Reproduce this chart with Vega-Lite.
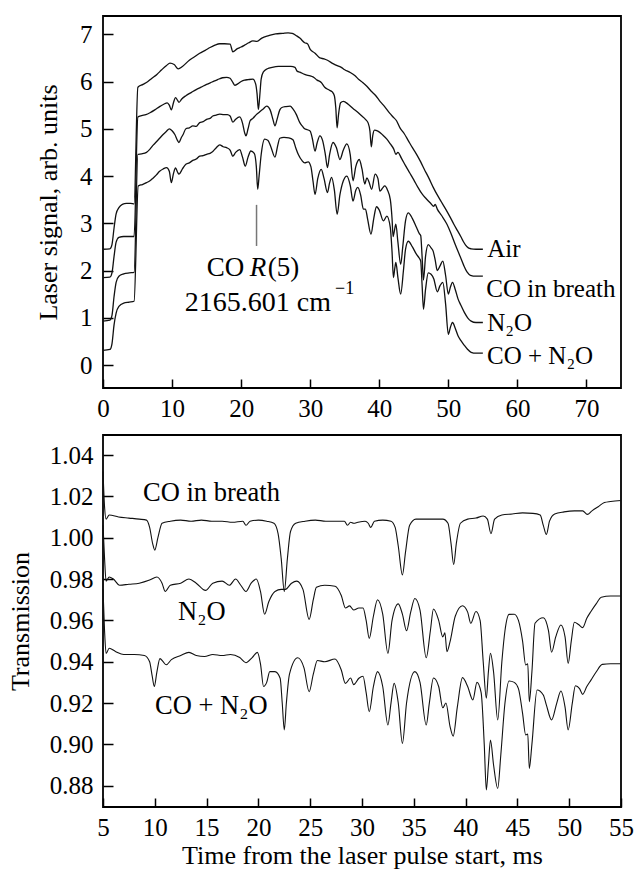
{
"$schema": "https://vega.github.io/schema/vega-lite/v6.json",
"padding": {"left": 6, "top": 15, "right": 0, "bottom": 0},
"spacing": 12,
"config": {
  "font": "Liberation Serif",
  "view": {"stroke": "#000", "strokeWidth": 1.8},
  "axis": {"labelFont": "Liberation Serif", "titleFont": "Liberation Serif", "labelFontSize": 25, "titleFontSize": 26, "titleFontWeight": "normal", "labelColor": "#000", "titleColor": "#000", "tickColor": "#000", "tickWidth": 1.5, "domain": false, "grid": false, "labelFlush": false, "labelOverlap": false}
},
"datasets": {
"top": [
{"s":"A","t":0,"v":2.45},{"s":"A","t":1.0,"v":2.46},{"s":"A","t":1.3,"v":2.55},{"s":"A","t":1.6,"v":2.9},{"s":"A","t":1.9,"v":3.2},{"s":"A","t":2.3,"v":3.33},{"s":"A","t":2.8,"v":3.4},{"s":"A","t":3.4,"v":3.42},{"s":"A","t":4.0,"v":3.42},{"s":"A","t":4.5,"v":3.41},{"s":"A","t":5.05,"v":5.88},{"s":"A","t":5.8,"v":5.94},{"s":"A","t":6.5,"v":6.0},{"s":"A","t":7.0,"v":6.06},{"s":"A","t":7.8,"v":6.15},{"s":"A","t":8.5,"v":6.25},{"s":"A","t":9.2,"v":6.34},{"s":"A","t":9.7,"v":6.39},{"s":"A","t":10.3,"v":6.36},{"s":"A","t":10.9,"v":6.27},{"s":"A","t":11.5,"v":6.32},{"s":"A","t":12.5,"v":6.45},{"s":"A","t":13.2,"v":6.52},{"s":"A","t":14.0,"v":6.6},{"s":"A","t":14.8,"v":6.66},{"s":"A","t":15.5,"v":6.72},{"s":"A","t":16.2,"v":6.77},{"s":"A","t":16.9,"v":6.8},{"s":"A","t":17.6,"v":6.8},{"s":"A","t":18.4,"v":6.79},{"s":"A","t":18.8,"v":6.63},{"s":"A","t":19.4,"v":6.69},{"s":"A","t":20.0,"v":6.73},{"s":"A","t":20.5,"v":6.77},{"s":"A","t":21.1,"v":6.82},{"s":"A","t":21.7,"v":6.86},{"s":"A","t":22.3,"v":6.85},{"s":"A","t":23.0,"v":6.92},{"s":"A","t":24.0,"v":6.97},{"s":"A","t":25.0,"v":7.01},{"s":"A","t":26.0,"v":7.02},{"s":"A","t":26.8,"v":7.03},{"s":"A","t":27.4,"v":7.02},{"s":"A","t":28.0,"v":6.97},{"s":"A","t":28.5,"v":6.92},{"s":"A","t":29.2,"v":6.82},{"s":"A","t":29.6,"v":6.8},{"s":"A","t":30.0,"v":6.68},{"s":"A","t":30.7,"v":6.6},{"s":"A","t":31.4,"v":6.5},{"s":"A","t":32.0,"v":6.48},{"s":"A","t":32.5,"v":6.45},{"s":"A","t":33.3,"v":6.38},{"s":"A","t":34.0,"v":6.33},{"s":"A","t":34.5,"v":6.3},{"s":"A","t":35.0,"v":6.25},{"s":"A","t":35.8,"v":6.19},{"s":"A","t":36.5,"v":6.12},{"s":"A","t":37.0,"v":6.05},{"s":"A","t":37.6,"v":5.98},{"s":"A","t":38.2,"v":5.9},{"s":"A","t":38.8,"v":5.8},{"s":"A","t":39.5,"v":5.7},{"s":"A","t":40.0,"v":5.6},{"s":"A","t":40.6,"v":5.5},{"s":"A","t":41.5,"v":5.33},{"s":"A","t":42.0,"v":5.25},{"s":"A","t":42.5,"v":5.17},{"s":"A","t":43.0,"v":5.02},{"s":"A","t":43.6,"v":4.9},{"s":"A","t":44.2,"v":4.75},{"s":"A","t":44.8,"v":4.6},{"s":"A","t":45.4,"v":4.46},{"s":"A","t":46.0,"v":4.3},{"s":"A","t":46.5,"v":4.15},{"s":"A","t":47.2,"v":3.95},{"s":"A","t":47.85,"v":3.75},{"s":"A","t":48.4,"v":3.6},{"s":"A","t":49.0,"v":3.45},{"s":"A","t":49.7,"v":3.28},{"s":"A","t":50.3,"v":3.12},{"s":"A","t":50.8,"v":2.98},{"s":"A","t":51.3,"v":2.85},{"s":"A","t":51.8,"v":2.72},{"s":"A","t":52.15,"v":2.62},{"s":"A","t":52.5,"v":2.54},{"s":"A","t":52.9,"v":2.48},{"s":"A","t":53.3,"v":2.46},{"s":"A","t":54.0,"v":2.45},{"s":"A","t":55.0,"v":2.45},
{"s":"B","t":0,"v":1.85},{"s":"B","t":1.0,"v":1.86},{"s":"B","t":1.3,"v":1.95},{"s":"B","t":1.6,"v":2.3},{"s":"B","t":1.9,"v":2.6},{"s":"B","t":2.3,"v":2.7},{"s":"B","t":3.0,"v":2.72},{"s":"B","t":3.8,"v":2.72},{"s":"B","t":4.5,"v":2.72},{"s":"B","t":5.05,"v":5.25},{"s":"B","t":5.6,"v":5.28},{"s":"B","t":6.2,"v":5.3},{"s":"B","t":6.8,"v":5.34},{"s":"B","t":7.5,"v":5.4},{"s":"B","t":8.2,"v":5.47},{"s":"B","t":8.8,"v":5.52},{"s":"B","t":9.3,"v":5.55},{"s":"B","t":9.6,"v":5.5},{"s":"B","t":9.9,"v":5.4},{"s":"B","t":10.2,"v":5.55},{"s":"B","t":10.5,"v":5.66},{"s":"B","t":10.8,"v":5.6},{"s":"B","t":11.0,"v":5.56},{"s":"B","t":11.4,"v":5.63},{"s":"B","t":12.0,"v":5.7},{"s":"B","t":12.8,"v":5.77},{"s":"B","t":13.5,"v":5.83},{"s":"B","t":14.2,"v":5.88},{"s":"B","t":15.0,"v":5.94},{"s":"B","t":15.8,"v":5.99},{"s":"B","t":16.6,"v":6.04},{"s":"B","t":17.3,"v":6.08},{"s":"B","t":17.9,"v":6.09},{"s":"B","t":18.4,"v":6.07},{"s":"B","t":18.8,"v":5.98},{"s":"B","t":19.1,"v":5.92},{"s":"B","t":19.5,"v":5.95},{"s":"B","t":20.0,"v":6.0},{"s":"B","t":20.5,"v":6.03},{"s":"B","t":21.0,"v":6.04},{"s":"B","t":21.7,"v":6.05},{"s":"B","t":22.1,"v":5.95},{"s":"B","t":22.3,"v":5.75},{"s":"B","t":22.5,"v":5.41},{"s":"B","t":22.7,"v":5.7},{"s":"B","t":22.9,"v":6.05},{"s":"B","t":23.2,"v":6.2},{"s":"B","t":23.8,"v":6.27},{"s":"B","t":24.5,"v":6.3},{"s":"B","t":25.4,"v":6.32},{"s":"B","t":26.3,"v":6.32},{"s":"B","t":27.2,"v":6.32},{"s":"B","t":27.8,"v":6.3},{"s":"B","t":28.1,"v":6.22},{"s":"B","t":28.5,"v":6.2},{"s":"B","t":29.2,"v":6.15},{"s":"B","t":30.0,"v":6.12},{"s":"B","t":30.4,"v":6.1},{"s":"B","t":31.0,"v":6.03},{"s":"B","t":31.6,"v":5.98},{"s":"B","t":32.1,"v":5.88},{"s":"B","t":32.6,"v":5.83},{"s":"B","t":33.2,"v":5.78},{"s":"B","t":33.5,"v":5.7},{"s":"B","t":33.7,"v":5.45},{"s":"B","t":33.9,"v":5.02},{"s":"B","t":34.1,"v":5.3},{"s":"B","t":34.4,"v":5.55},{"s":"B","t":34.8,"v":5.58},{"s":"B","t":35.5,"v":5.52},{"s":"B","t":36.2,"v":5.43},{"s":"B","t":36.8,"v":5.36},{"s":"B","t":37.4,"v":5.28},{"s":"B","t":38.0,"v":5.2},{"s":"B","t":38.4,"v":5.12},{"s":"B","t":38.65,"v":4.95},{"s":"B","t":38.85,"v":4.62},{"s":"B","t":39.05,"v":4.85},{"s":"B","t":39.3,"v":4.97},{"s":"B","t":39.8,"v":4.95},{"s":"B","t":40.5,"v":4.87},{"s":"B","t":41.1,"v":4.78},{"s":"B","t":41.6,"v":4.68},{"s":"B","t":42.1,"v":4.57},{"s":"B","t":42.4,"v":4.46},{"s":"B","t":42.7,"v":4.5},{"s":"B","t":43.2,"v":4.38},{"s":"B","t":43.8,"v":4.22},{"s":"B","t":44.4,"v":4.07},{"s":"B","t":45.0,"v":3.92},{"s":"B","t":45.6,"v":3.76},{"s":"B","t":46.2,"v":3.62},{"s":"B","t":46.8,"v":3.52},{"s":"B","t":47.4,"v":3.43},{"s":"B","t":47.9,"v":3.36},{"s":"B","t":48.1,"v":3.4},{"s":"B","t":48.4,"v":3.3},{"s":"B","t":49.0,"v":3.17},{"s":"B","t":49.8,"v":2.98},{"s":"B","t":50.4,"v":2.78},{"s":"B","t":51.0,"v":2.55},{"s":"B","t":51.7,"v":2.3},{"s":"B","t":52.2,"v":2.12},{"s":"B","t":52.7,"v":1.97},{"s":"B","t":53.2,"v":1.9},{"s":"B","t":54.0,"v":1.88},{"s":"B","t":55.0,"v":1.88},
{"s":"C","t":0,"v":0.93},{"s":"C","t":1.0,"v":0.95},{"s":"C","t":1.3,"v":1.05},{"s":"C","t":1.6,"v":1.45},{"s":"C","t":1.9,"v":1.75},{"s":"C","t":2.3,"v":1.88},{"s":"C","t":3.0,"v":1.93},{"s":"C","t":3.8,"v":1.95},{"s":"C","t":4.5,"v":1.96},{"s":"C","t":5.05,"v":4.46},{"s":"C","t":5.6,"v":4.47},{"s":"C","t":6.3,"v":4.5},{"s":"C","t":6.8,"v":4.57},{"s":"C","t":7.3,"v":4.66},{"s":"C","t":7.7,"v":4.72},{"s":"C","t":8.2,"v":4.8},{"s":"C","t":8.7,"v":4.88},{"s":"C","t":9.2,"v":4.95},{"s":"C","t":9.6,"v":5.0},{"s":"C","t":10.0,"v":4.96},{"s":"C","t":10.4,"v":4.88},{"s":"C","t":10.8,"v":4.75},{"s":"C","t":11.0,"v":4.71},{"s":"C","t":11.3,"v":4.8},{"s":"C","t":11.6,"v":4.88},{"s":"C","t":12.0,"v":5.0},{"s":"C","t":12.5,"v":5.02},{"s":"C","t":13.0,"v":5.06},{"s":"C","t":13.5,"v":5.05},{"s":"C","t":14.0,"v":5.13},{"s":"C","t":14.5,"v":5.15},{"s":"C","t":15.0,"v":5.2},{"s":"C","t":15.5,"v":5.22},{"s":"C","t":15.9,"v":5.27},{"s":"C","t":16.4,"v":5.29},{"s":"C","t":16.9,"v":5.31},{"s":"C","t":17.5,"v":5.3},{"s":"C","t":18.0,"v":5.3},{"s":"C","t":18.4,"v":5.27},{"s":"C","t":18.8,"v":5.14},{"s":"C","t":19.2,"v":5.2},{"s":"C","t":19.8,"v":5.25},{"s":"C","t":20.2,"v":5.12},{"s":"C","t":20.5,"v":4.92},{"s":"C","t":20.7,"v":4.85},{"s":"C","t":21.0,"v":5.0},{"s":"C","t":21.3,"v":5.17},{"s":"C","t":21.7,"v":5.22},{"s":"C","t":22.2,"v":5.3},{"s":"C","t":22.7,"v":5.36},{"s":"C","t":23.2,"v":5.42},{"s":"C","t":23.7,"v":5.48},{"s":"C","t":24.2,"v":5.4},{"s":"C","t":24.6,"v":5.2},{"s":"C","t":24.9,"v":5.06},{"s":"C","t":25.2,"v":5.2},{"s":"C","t":25.6,"v":5.4},{"s":"C","t":25.9,"v":5.45},{"s":"C","t":26.5,"v":5.47},{"s":"C","t":27.1,"v":5.48},{"s":"C","t":27.5,"v":5.42},{"s":"C","t":28.0,"v":5.3},{"s":"C","t":28.5,"v":5.13},{"s":"C","t":28.9,"v":5.05},{"s":"C","t":29.2,"v":5.0},{"s":"C","t":29.6,"v":4.98},{"s":"C","t":30.0,"v":4.95},{"s":"C","t":30.3,"v":4.8},{"s":"C","t":30.7,"v":4.53},{"s":"C","t":31.0,"v":4.7},{"s":"C","t":31.4,"v":4.85},{"s":"C","t":31.8,"v":4.75},{"s":"C","t":32.2,"v":4.45},{"s":"C","t":32.5,"v":4.18},{"s":"C","t":32.8,"v":4.45},{"s":"C","t":33.3,"v":4.71},{"s":"C","t":33.8,"v":4.6},{"s":"C","t":34.3,"v":4.35},{"s":"C","t":34.8,"v":4.55},{"s":"C","t":35.3,"v":4.68},{"s":"C","t":35.8,"v":4.45},{"s":"C","t":36.2,"v":3.9},{"s":"C","t":36.6,"v":4.2},{"s":"C","t":37.1,"v":4.35},{"s":"C","t":37.5,"v":4.15},{"s":"C","t":37.9,"v":3.83},{"s":"C","t":38.2,"v":3.96},{"s":"C","t":38.5,"v":3.88},{"s":"C","t":38.9,"v":3.72},{"s":"C","t":39.4,"v":4.04},{"s":"C","t":39.8,"v":3.95},{"s":"C","t":40.1,"v":3.68},{"s":"C","t":40.5,"v":3.75},{"s":"C","t":40.8,"v":3.79},{"s":"C","t":41.2,"v":3.7},{"s":"C","t":41.6,"v":3.5},{"s":"C","t":41.85,"v":3.1},{"s":"C","t":42.0,"v":2.72},{"s":"C","t":42.2,"v":2.85},{"s":"C","t":42.4,"v":2.98},{"s":"C","t":42.7,"v":2.6},{"s":"C","t":43.1,"v":2.13},{"s":"C","t":43.4,"v":2.5},{"s":"C","t":43.8,"v":3.05},{"s":"C","t":44.2,"v":3.22},{"s":"C","t":44.8,"v":3.1},{"s":"C","t":45.4,"v":2.91},{"s":"C","t":45.8,"v":2.78},{"s":"C","t":46.0,"v":2.74},{"s":"C","t":46.2,"v":2.3},{"s":"C","t":46.4,"v":1.8},{"s":"C","t":46.7,"v":2.3},{"s":"C","t":47.1,"v":2.55},{"s":"C","t":47.5,"v":2.48},{"s":"C","t":47.8,"v":2.41},{"s":"C","t":48.1,"v":2.22},{"s":"C","t":48.4,"v":2.0},{"s":"C","t":48.8,"v":2.1},{"s":"C","t":49.2,"v":2.2},{"s":"C","t":49.6,"v":1.9},{"s":"C","t":50.0,"v":1.5},{"s":"C","t":50.3,"v":1.65},{"s":"C","t":50.6,"v":1.75},{"s":"C","t":51.0,"v":1.6},{"s":"C","t":51.4,"v":1.4},{"s":"C","t":51.8,"v":1.27},{"s":"C","t":52.3,"v":1.12},{"s":"C","t":52.8,"v":1.0},{"s":"C","t":53.3,"v":0.93},{"s":"C","t":54.0,"v":0.9},{"s":"C","t":55.0,"v":0.9},
{"s":"D","t":0,"v":0.31},{"s":"D","t":1.0,"v":0.33},{"s":"D","t":1.3,"v":0.45},{"s":"D","t":1.6,"v":0.85},{"s":"D","t":1.9,"v":1.1},{"s":"D","t":2.3,"v":1.24},{"s":"D","t":3.0,"v":1.31},{"s":"D","t":3.8,"v":1.33},{"s":"D","t":4.5,"v":1.35},{"s":"D","t":5.1,"v":3.79},{"s":"D","t":5.7,"v":3.82},{"s":"D","t":6.3,"v":3.86},{"s":"D","t":6.8,"v":3.9},{"s":"D","t":7.2,"v":3.95},{"s":"D","t":7.7,"v":4.02},{"s":"D","t":8.2,"v":4.1},{"s":"D","t":8.7,"v":4.15},{"s":"D","t":9.2,"v":4.18},{"s":"D","t":9.6,"v":4.1},{"s":"D","t":9.9,"v":3.86},{"s":"D","t":10.2,"v":4.05},{"s":"D","t":10.5,"v":4.17},{"s":"D","t":10.8,"v":4.08},{"s":"D","t":11.0,"v":4.04},{"s":"D","t":11.5,"v":4.15},{"s":"D","t":12.0,"v":4.25},{"s":"D","t":12.5,"v":4.28},{"s":"D","t":13.0,"v":4.33},{"s":"D","t":13.5,"v":4.36},{"s":"D","t":14.0,"v":4.42},{"s":"D","t":14.5,"v":4.43},{"s":"D","t":15.0,"v":4.46},{"s":"D","t":15.5,"v":4.48},{"s":"D","t":15.9,"v":4.52},{"s":"D","t":16.4,"v":4.6},{"s":"D","t":16.9,"v":4.66},{"s":"D","t":17.4,"v":4.62},{"s":"D","t":17.9,"v":4.6},{"s":"D","t":18.4,"v":4.55},{"s":"D","t":18.8,"v":4.42},{"s":"D","t":19.2,"v":4.5},{"s":"D","t":19.8,"v":4.56},{"s":"D","t":20.2,"v":4.4},{"s":"D","t":20.6,"v":4.21},{"s":"D","t":21.0,"v":4.4},{"s":"D","t":21.4,"v":4.53},{"s":"D","t":21.9,"v":4.48},{"s":"D","t":22.2,"v":4.2},{"s":"D","t":22.4,"v":3.72},{"s":"D","t":22.6,"v":4.0},{"s":"D","t":22.9,"v":4.45},{"s":"D","t":23.4,"v":4.78},{"s":"D","t":23.9,"v":4.75},{"s":"D","t":24.3,"v":4.62},{"s":"D","t":24.9,"v":4.4},{"s":"D","t":25.3,"v":4.65},{"s":"D","t":25.6,"v":4.8},{"s":"D","t":26.2,"v":4.82},{"s":"D","t":26.9,"v":4.81},{"s":"D","t":27.5,"v":4.77},{"s":"D","t":27.9,"v":4.6},{"s":"D","t":28.3,"v":4.45},{"s":"D","t":28.8,"v":4.33},{"s":"D","t":29.2,"v":4.28},{"s":"D","t":29.7,"v":4.3},{"s":"D","t":30.1,"v":4.2},{"s":"D","t":30.4,"v":3.9},{"s":"D","t":30.7,"v":3.61},{"s":"D","t":31.1,"v":3.95},{"s":"D","t":31.6,"v":4.14},{"s":"D","t":32.0,"v":3.95},{"s":"D","t":32.5,"v":3.65},{"s":"D","t":32.8,"v":3.85},{"s":"D","t":33.1,"v":3.97},{"s":"D","t":33.5,"v":3.7},{"s":"D","t":33.9,"v":3.19},{"s":"D","t":34.3,"v":3.6},{"s":"D","t":34.8,"v":3.9},{"s":"D","t":35.3,"v":4.0},{"s":"D","t":35.8,"v":3.8},{"s":"D","t":36.2,"v":3.47},{"s":"D","t":36.6,"v":3.7},{"s":"D","t":36.9,"v":3.76},{"s":"D","t":37.3,"v":3.6},{"s":"D","t":37.7,"v":3.3},{"s":"D","t":38.0,"v":3.3},{"s":"D","t":38.3,"v":3.1},{"s":"D","t":38.8,"v":2.77},{"s":"D","t":39.2,"v":3.1},{"s":"D","t":39.6,"v":3.35},{"s":"D","t":40.0,"v":3.28},{"s":"D","t":40.6,"v":3.05},{"s":"D","t":41.1,"v":3.15},{"s":"D","t":41.6,"v":2.91},{"s":"D","t":41.85,"v":2.4},{"s":"D","t":42.05,"v":1.85},{"s":"D","t":42.25,"v":2.05},{"s":"D","t":42.4,"v":2.17},{"s":"D","t":42.7,"v":1.85},{"s":"D","t":43.1,"v":1.5},{"s":"D","t":43.5,"v":2.0},{"s":"D","t":43.8,"v":2.45},{"s":"D","t":44.2,"v":2.62},{"s":"D","t":44.8,"v":2.5},{"s":"D","t":45.4,"v":2.34},{"s":"D","t":45.8,"v":2.26},{"s":"D","t":46.0,"v":2.2},{"s":"D","t":46.2,"v":1.7},{"s":"D","t":46.4,"v":1.18},{"s":"D","t":46.7,"v":1.6},{"s":"D","t":47.1,"v":1.95},{"s":"D","t":47.5,"v":1.92},{"s":"D","t":47.9,"v":1.82},{"s":"D","t":48.4,"v":1.55},{"s":"D","t":48.8,"v":1.68},{"s":"D","t":49.2,"v":1.75},{"s":"D","t":49.6,"v":1.3},{"s":"D","t":50.0,"v":0.65},{"s":"D","t":50.3,"v":0.8},{"s":"D","t":50.6,"v":0.9},{"s":"D","t":51.0,"v":0.78},{"s":"D","t":51.4,"v":0.62},{"s":"D","t":51.8,"v":0.52},{"s":"D","t":52.3,"v":0.42},{"s":"D","t":52.8,"v":0.33},{"s":"D","t":53.3,"v":0.27},{"s":"D","t":54.0,"v":0.25},{"s":"D","t":55.0,"v":0.25}
],
"bottom": [
{"s":"B","t":5.0,"v":1.032},{"s":"B","t":5.15,"v":1.015},{"s":"B","t":5.3,"v":1.009},{"s":"B","t":5.6,"v":1.011},{"s":"B","t":6.5,"v":1.01},{"s":"B","t":7.5,"v":1.0095},{"s":"B","t":8.5,"v":1.009},{"s":"B","t":9.2,"v":1.0085},{"s":"B","t":9.5,"v":1.005},{"s":"B","t":9.8,"v":0.997},{"s":"B","t":10.0,"v":0.994},{"s":"B","t":10.3,"v":1.0},{"s":"B","t":10.7,"v":1.007},{"s":"B","t":11.5,"v":1.008},{"s":"B","t":12.5,"v":1.0085},{"s":"B","t":13.5,"v":1.008},{"s":"B","t":14.5,"v":1.0085},{"s":"B","t":15.5,"v":1.008},{"s":"B","t":16.5,"v":1.008},{"s":"B","t":17.5,"v":1.0075},{"s":"B","t":18.5,"v":1.008},{"s":"B","t":18.8,"v":1.006},{"s":"B","t":19.2,"v":1.008},{"s":"B","t":20.0,"v":1.0085},{"s":"B","t":20.8,"v":1.008},{"s":"B","t":21.5,"v":1.007},{"s":"B","t":21.9,"v":1.002},{"s":"B","t":22.2,"v":0.99},{"s":"B","t":22.5,"v":0.974},{"s":"B","t":22.8,"v":0.99},{"s":"B","t":23.1,"v":1.003},{"s":"B","t":23.6,"v":1.007},{"s":"B","t":24.5,"v":1.008},{"s":"B","t":25.5,"v":1.0085},{"s":"B","t":26.5,"v":1.008},{"s":"B","t":27.5,"v":1.008},{"s":"B","t":28.3,"v":1.008},{"s":"B","t":28.6,"v":1.006},{"s":"B","t":28.9,"v":1.0075},{"s":"B","t":29.2,"v":1.007},{"s":"B","t":29.6,"v":1.0075},{"s":"B","t":30.3,"v":1.008},{"s":"B","t":30.6,"v":1.007},{"s":"B","t":30.85,"v":1.005},{"s":"B","t":31.2,"v":1.008},{"s":"B","t":32.0,"v":1.0085},{"s":"B","t":32.8,"v":1.008},{"s":"B","t":33.2,"v":1.005},{"s":"B","t":33.5,"v":0.996},{"s":"B","t":33.9,"v":0.982},{"s":"B","t":34.2,"v":0.993},{"s":"B","t":34.6,"v":1.006},{"s":"B","t":35.2,"v":1.009},{"s":"B","t":36.0,"v":1.009},{"s":"B","t":37.0,"v":1.009},{"s":"B","t":37.8,"v":1.009},{"s":"B","t":38.3,"v":1.007},{"s":"B","t":38.6,"v":0.997},{"s":"B","t":38.85,"v":0.987},{"s":"B","t":39.1,"v":0.997},{"s":"B","t":39.5,"v":1.007},{"s":"B","t":40.2,"v":1.009},{"s":"B","t":41.0,"v":1.0095},{"s":"B","t":41.7,"v":1.0105},{"s":"B","t":42.1,"v":1.009},{"s":"B","t":42.45,"v":1.002},{"s":"B","t":42.8,"v":1.009},{"s":"B","t":43.5,"v":1.011},{"s":"B","t":44.5,"v":1.0115},{"s":"B","t":45.5,"v":1.012},{"s":"B","t":46.5,"v":1.0118},{"s":"B","t":47.2,"v":1.011},{"s":"B","t":47.5,"v":1.006},{"s":"B","t":47.8,"v":1.0016},{"s":"B","t":48.1,"v":1.008},{"s":"B","t":48.6,"v":1.0115},{"s":"B","t":49.5,"v":1.0125},{"s":"B","t":50.5,"v":1.013},{"s":"B","t":51.3,"v":1.013},{"s":"B","t":51.75,"v":1.0113},{"s":"B","t":52.2,"v":1.013},{"s":"B","t":52.8,"v":1.015},{"s":"B","t":53.4,"v":1.017},{"s":"B","t":54.0,"v":1.0175},{"s":"B","t":55.0,"v":1.018},
{"s":"C","t":5.0,"v":1.006},{"s":"C","t":5.15,"v":0.99},{"s":"C","t":5.3,"v":0.979},{"s":"C","t":5.6,"v":0.981},{"s":"C","t":6.0,"v":0.98},{"s":"C","t":6.6,"v":0.977},{"s":"C","t":7.5,"v":0.9775},{"s":"C","t":8.5,"v":0.978},{"s":"C","t":9.5,"v":0.9795},{"s":"C","t":10.2,"v":0.981},{"s":"C","t":10.7,"v":0.978},{"s":"C","t":11.0,"v":0.974},{"s":"C","t":11.5,"v":0.977},{"s":"C","t":12.5,"v":0.978},{"s":"C","t":13.3,"v":0.98},{"s":"C","t":14.0,"v":0.978},{"s":"C","t":14.9,"v":0.9745},{"s":"C","t":15.6,"v":0.978},{"s":"C","t":16.5,"v":0.979},{"s":"C","t":17.2,"v":0.977},{"s":"C","t":17.8,"v":0.98},{"s":"C","t":18.3,"v":0.977},{"s":"C","t":18.8,"v":0.974},{"s":"C","t":19.3,"v":0.978},{"s":"C","t":19.8,"v":0.98},{"s":"C","t":20.2,"v":0.974},{"s":"C","t":20.6,"v":0.963},{"s":"C","t":21.0,"v":0.969},{"s":"C","t":21.6,"v":0.974},{"s":"C","t":22.2,"v":0.975},{"s":"C","t":22.6,"v":0.975},{"s":"C","t":23.2,"v":0.978},{"s":"C","t":23.7,"v":0.979},{"s":"C","t":24.3,"v":0.975},{"s":"C","t":24.9,"v":0.9605},{"s":"C","t":25.3,"v":0.97},{"s":"C","t":25.6,"v":0.976},{"s":"C","t":26.4,"v":0.977},{"s":"C","t":27.4,"v":0.9765},{"s":"C","t":28.0,"v":0.972},{"s":"C","t":28.4,"v":0.966},{"s":"C","t":28.8,"v":0.967},{"s":"C","t":29.2,"v":0.965},{"s":"C","t":29.7,"v":0.966},{"s":"C","t":30.1,"v":0.966},{"s":"C","t":30.4,"v":0.96},{"s":"C","t":30.7,"v":0.9513},{"s":"C","t":31.1,"v":0.962},{"s":"C","t":31.5,"v":0.97},{"s":"C","t":32.0,"v":0.963},{"s":"C","t":32.5,"v":0.9441},{"s":"C","t":32.9,"v":0.96},{"s":"C","t":33.5,"v":0.968},{"s":"C","t":33.9,"v":0.963},{"s":"C","t":34.3,"v":0.955},{"s":"C","t":34.7,"v":0.964},{"s":"C","t":35.1,"v":0.9706},{"s":"C","t":35.6,"v":0.965},{"s":"C","t":36.2,"v":0.9419},{"s":"C","t":36.6,"v":0.955},{"s":"C","t":36.9,"v":0.9655},{"s":"C","t":37.4,"v":0.96},{"s":"C","t":37.8,"v":0.952},{"s":"C","t":38.0,"v":0.954},{"s":"C","t":38.2,"v":0.9449},{"s":"C","t":38.5,"v":0.9497},{"s":"C","t":39.0,"v":0.962},{"s":"C","t":39.7,"v":0.9671},{"s":"C","t":40.2,"v":0.964},{"s":"C","t":40.5,"v":0.9586},{"s":"C","t":41.0,"v":0.9643},{"s":"C","t":41.4,"v":0.96},{"s":"C","t":41.7,"v":0.94},{"s":"C","t":42.0,"v":0.9223},{"s":"C","t":42.2,"v":0.935},{"s":"C","t":42.4,"v":0.9441},{"s":"C","t":42.7,"v":0.935},{"s":"C","t":43.1,"v":0.9118},{"s":"C","t":43.5,"v":0.94},{"s":"C","t":43.8,"v":0.955},{"s":"C","t":44.2,"v":0.9629},{"s":"C","t":44.7,"v":0.963},{"s":"C","t":45.1,"v":0.96},{"s":"C","t":45.5,"v":0.95},{"s":"C","t":45.8,"v":0.9384},{"s":"C","t":46.0,"v":0.939},{"s":"C","t":46.15,"v":0.9207},{"s":"C","t":46.4,"v":0.935},{"s":"C","t":46.7,"v":0.9586},{"s":"C","t":47.5,"v":0.9613},{"s":"C","t":48.0,"v":0.955},{"s":"C","t":48.3,"v":0.9446},{"s":"C","t":48.7,"v":0.952},{"s":"C","t":49.2,"v":0.9578},{"s":"C","t":49.6,"v":0.952},{"s":"C","t":49.9,"v":0.9392},{"s":"C","t":50.2,"v":0.95},{"s":"C","t":50.5,"v":0.9591},{"s":"C","t":50.9,"v":0.958},{"s":"C","t":51.3,"v":0.9565},{"s":"C","t":51.7,"v":0.961},{"s":"C","t":52.1,"v":0.9643},{"s":"C","t":52.6,"v":0.968},{"s":"C","t":53.1,"v":0.9712},{"s":"C","t":54.0,"v":0.9718},{"s":"C","t":55.0,"v":0.9718},
{"s":"D","t":5.0,"v":0.975},{"s":"D","t":5.15,"v":0.955},{"s":"D","t":5.3,"v":0.944},{"s":"D","t":5.6,"v":0.9465},{"s":"D","t":6.2,"v":0.945},{"s":"D","t":7.0,"v":0.9435},{"s":"D","t":8.0,"v":0.9435},{"s":"D","t":9.0,"v":0.943},{"s":"D","t":9.5,"v":0.94},{"s":"D","t":9.75,"v":0.933},{"s":"D","t":9.95,"v":0.928},{"s":"D","t":10.2,"v":0.935},{"s":"D","t":10.5,"v":0.9415},{"s":"D","t":10.8,"v":0.94},{"s":"D","t":11.1,"v":0.9385},{"s":"D","t":11.6,"v":0.941},{"s":"D","t":12.5,"v":0.943},{"s":"D","t":13.3,"v":0.9445},{"s":"D","t":14.0,"v":0.943},{"s":"D","t":14.8,"v":0.9425},{"s":"D","t":15.6,"v":0.9435},{"s":"D","t":16.5,"v":0.943},{"s":"D","t":17.3,"v":0.9435},{"s":"D","t":18.2,"v":0.942},{"s":"D","t":18.8,"v":0.9395},{"s":"D","t":19.4,"v":0.942},{"s":"D","t":19.9,"v":0.9445},{"s":"D","t":20.2,"v":0.939},{"s":"D","t":20.5,"v":0.928},{"s":"D","t":20.8,"v":0.93},{"s":"D","t":21.1,"v":0.9352},{"s":"D","t":21.6,"v":0.9352},{"s":"D","t":22.1,"v":0.932},{"s":"D","t":22.3,"v":0.92},{"s":"D","t":22.5,"v":0.907},{"s":"D","t":22.7,"v":0.92},{"s":"D","t":23.0,"v":0.934},{"s":"D","t":23.8,"v":0.9419},{"s":"D","t":24.4,"v":0.937},{"s":"D","t":24.9,"v":0.9255},{"s":"D","t":25.3,"v":0.934},{"s":"D","t":25.7,"v":0.9406},{"s":"D","t":26.4,"v":0.94},{"s":"D","t":27.4,"v":0.9413},{"s":"D","t":28.0,"v":0.936},{"s":"D","t":28.4,"v":0.9295},{"s":"D","t":28.9,"v":0.9321},{"s":"D","t":29.2,"v":0.9289},{"s":"D","t":29.7,"v":0.932},{"s":"D","t":30.1,"v":0.933},{"s":"D","t":30.4,"v":0.925},{"s":"D","t":30.7,"v":0.9158},{"s":"D","t":31.1,"v":0.928},{"s":"D","t":31.5,"v":0.9352},{"s":"D","t":32.0,"v":0.928},{"s":"D","t":32.5,"v":0.9094},{"s":"D","t":32.8,"v":0.92},{"s":"D","t":33.1,"v":0.9295},{"s":"D","t":33.5,"v":0.92},{"s":"D","t":33.9,"v":0.9005},{"s":"D","t":34.3,"v":0.92},{"s":"D","t":35.1,"v":0.9352},{"s":"D","t":35.6,"v":0.93},{"s":"D","t":36.2,"v":0.9094},{"s":"D","t":36.5,"v":0.92},{"s":"D","t":36.9,"v":0.9321},{"s":"D","t":37.4,"v":0.928},{"s":"D","t":37.8,"v":0.9177},{"s":"D","t":38.1,"v":0.92},{"s":"D","t":38.5,"v":0.9086},{"s":"D","t":38.8,"v":0.904},{"s":"D","t":39.2,"v":0.918},{"s":"D","t":39.7,"v":0.9323},{"s":"D","t":40.2,"v":0.928},{"s":"D","t":40.7,"v":0.9215},{"s":"D","t":41.1,"v":0.93},{"s":"D","t":41.5,"v":0.925},{"s":"D","t":41.8,"v":0.9},{"s":"D","t":42.0,"v":0.878},{"s":"D","t":42.2,"v":0.89},{"s":"D","t":42.4,"v":0.9021},{"s":"D","t":42.7,"v":0.89},{"s":"D","t":43.1,"v":0.8787},{"s":"D","t":43.4,"v":0.895},{"s":"D","t":43.8,"v":0.92},{"s":"D","t":44.2,"v":0.9307},{"s":"D","t":44.7,"v":0.93},{"s":"D","t":45.1,"v":0.927},{"s":"D","t":45.5,"v":0.915},{"s":"D","t":45.8,"v":0.9046},{"s":"D","t":46.0,"v":0.905},{"s":"D","t":46.15,"v":0.8884},{"s":"D","t":46.4,"v":0.9},{"s":"D","t":46.9,"v":0.9263},{"s":"D","t":47.5,"v":0.9239},{"s":"D","t":47.8,"v":0.919},{"s":"D","t":48.3,"v":0.9118},{"s":"D","t":48.8,"v":0.92},{"s":"D","t":49.2,"v":0.9258},{"s":"D","t":49.6,"v":0.918},{"s":"D","t":49.9,"v":0.907},{"s":"D","t":50.3,"v":0.92},{"s":"D","t":50.6,"v":0.9284},{"s":"D","t":51.0,"v":0.927},{"s":"D","t":51.3,"v":0.9242},{"s":"D","t":51.7,"v":0.928},{"s":"D","t":52.1,"v":0.9311},{"s":"D","t":52.6,"v":0.935},{"s":"D","t":53.2,"v":0.9387},{"s":"D","t":54.0,"v":0.939},{"s":"D","t":55.0,"v":0.939}
],
"topText": [
{"t":55.63,"v":2.45,"label":"Air"},
{"t":55.5,"v":1.61,"label":"CO in breath"},
{"t":55.63,"v":0.88,"label":"N₂O"},
{"t":55.6,"v":0.2,"label":"CO + N₂O"}
],
"annot": [
{"t":15.03,"v":2.05,"label":"CO"},
{"t":23.87,"v":2.05,"label":"(5)"}
],
"annot2": [{"t":11.83,"v":1.32,"label":"2165.601 cm"}],
"topItalic": [{"t":21.26,"v":2.05,"label":"R"}],
"topSup": [{"t":33.6,"v":1.6,"label":"−1"}],
"marker": [{"t":22.23,"v":3.39,"v2":2.52}],
"bottomText": [
{"t":8.86,"v":1.0216,"label":"CO in breath"},
{"t":12.24,"v":0.964,"label":"N₂O"},
{"t":10.02,"v":0.9186,"label":"CO + N₂O"}
]
},
"vconcat": [
{
 "width": 518, "height": 372,
 "layer": [
  {"data": {"name": "top"}, "mark": {"type": "line", "color": "#111", "strokeWidth": 1.3, "interpolate": "monotone"},
   "encoding": {
    "x": {"field": "t", "type": "quantitative", "scale": {"domain": [0, 75], "nice": false, "zero": false},
      "axis": {"title": null, "values": [0,5,10,15,20,25,30,35,40,45,50,55,60,65,70], "format": "d", "labelExpr": "datum.value % 10 === 0 ? datum.label : ''", "tickSize": {"condition": {"test": "datum.value % 10 === 0", "value": -9}, "value": -5}, "labelPadding": 17}},
    "y": {"field": "v", "type": "quantitative", "scale": {"domain": [-0.486, 7.387], "nice": false, "zero": false},
      "axis": {"title": "Laser signal, arb. units", "values": [0,0.5,1,1.5,2,2.5,3,3.5,4,4.5,5,5.5,6,6.5,7], "format": "d", "labelExpr": "datum.value % 1 === 0 ? datum.label : ''", "tickSize": {"condition": {"test": "datum.value % 1 === 0", "value": -10}, "value": -6}, "labelPadding": 21, "titlePadding": 18}},
    "detail": {"field": "s"}
   }},
  {"data": {"name": "marker"}, "mark": {"type": "rule", "color": "#777", "strokeWidth": 1.5},
   "encoding": {"x": {"field": "t", "type": "quantitative"}, "y": {"field": "v", "type": "quantitative"}, "y2": {"field": "v2"}}},
  {"data": {"name": "topText"}, "mark": {"type": "text", "align": "left", "baseline": "middle", "fontSize": 25, "font": "Liberation Serif", "color": "#000"},
   "encoding": {"x": {"field": "t", "type": "quantitative"}, "y": {"field": "v", "type": "quantitative"}, "text": {"field": "label"}}},
  {"data": {"name": "annot"}, "mark": {"type": "text", "align": "left", "baseline": "middle", "fontSize": 27, "font": "Liberation Serif", "color": "#000"},
   "encoding": {"x": {"field": "t", "type": "quantitative"}, "y": {"field": "v", "type": "quantitative"}, "text": {"field": "label"}}},
  {"data": {"name": "annot2"}, "mark": {"type": "text", "align": "left", "baseline": "middle", "fontSize": 28, "font": "Liberation Serif", "color": "#000"},
   "encoding": {"x": {"field": "t", "type": "quantitative"}, "y": {"field": "v", "type": "quantitative"}, "text": {"field": "label"}}},
  {"data": {"name": "topItalic"}, "mark": {"type": "text", "align": "left", "baseline": "middle", "fontSize": 27, "fontStyle": "italic", "font": "Liberation Serif", "color": "#000"},
   "encoding": {"x": {"field": "t", "type": "quantitative"}, "y": {"field": "v", "type": "quantitative"}, "text": {"field": "label"}}},
  {"data": {"name": "topSup"}, "mark": {"type": "text", "align": "left", "baseline": "middle", "fontSize": 18, "font": "Liberation Serif", "color": "#000"},
   "encoding": {"x": {"field": "t", "type": "quantitative"}, "y": {"field": "v", "type": "quantitative"}, "text": {"field": "label"}}}
 ]
},
{
 "width": 518, "height": 372,
 "layer": [
  {"data": {"name": "bottom"}, "mark": {"type": "line", "color": "#111", "strokeWidth": 1.1, "interpolate": "monotone"},
   "encoding": {
    "x": {"field": "t", "type": "quantitative", "scale": {"domain": [5, 55], "nice": false, "zero": false},
      "axis": {"title": "Time from the laser pulse start, ms", "values": [5,7.5,10,12.5,15,17.5,20,22.5,25,27.5,30,32.5,35,37.5,40,42.5,45,47.5,50,52.5,55], "format": "d", "labelExpr": "datum.value % 5 === 0 ? datum.label : ''", "tickSize": {"condition": {"test": "datum.value % 5 === 0", "value": -9}, "value": -5}, "labelPadding": 17, "titlePadding": 2}},
    "y": {"field": "v", "type": "quantitative", "scale": {"domain": [0.8697, 1.0497], "nice": false, "zero": false},
      "axis": {"title": "Transmission", "values": [0.88,0.89,0.9,0.91,0.92,0.93,0.94,0.95,0.96,0.97,0.98,0.99,1.0,1.01,1.02,1.03,1.04], "format": ".2f", "labelExpr": "round(datum.value*100) % 2 === 0 ? datum.label : ''", "tickSize": {"condition": {"test": "round(datum.value*100) % 2 === 0", "value": -10}, "value": -6}, "labelPadding": 20, "titlePadding": 16}},
    "detail": {"field": "s"}
   }},
  {"data": {"name": "bottomText"}, "mark": {"type": "text", "align": "left", "baseline": "middle", "fontSize": 26.5, "font": "Liberation Serif", "color": "#000"},
   "encoding": {"x": {"field": "t", "type": "quantitative"}, "y": {"field": "v", "type": "quantitative"}, "text": {"field": "label"}}}
 ]
}
]
}
